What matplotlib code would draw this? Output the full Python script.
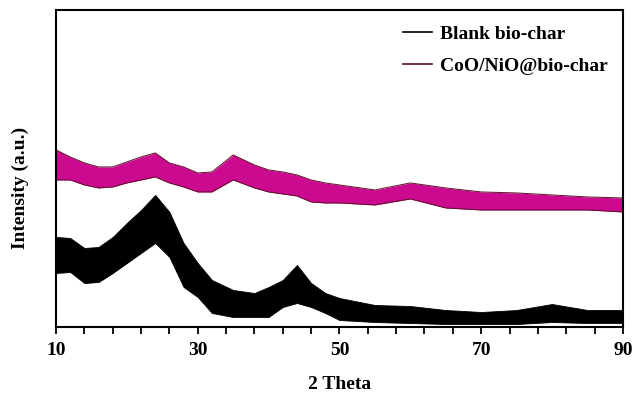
import numpy as np
import matplotlib.pyplot as plt
from matplotlib.lines import Line2D

# 2-theta positions where the envelopes were read (deg)
two_theta = [10, 12, 14, 16, 18, 20, 22, 24, 26, 28, 30, 32, 35, 38, 40, 42,
             44, 46, 48, 50, 55, 60, 65, 70, 75, 80, 85, 90]

# noisy traces given as upper / lower envelope of the scatter (a.u.)
blank_hi = [90, 89, 79, 80, 90, 104, 117, 132, 115, 84, 64, 47, 37, 34, 40, 47,
            62, 44, 34, 29, 22, 21, 17, 15, 17, 23, 17, 17]
blank_lo = [54, 55, 44, 45, 54, 64, 74, 84, 70, 40, 30, 14, 10, 10, 10, 20,
            24, 20, 14, 7, 5, 4, 3, 3, 3, 5, 4, 4]
coni_hi = [177, 170, 164, 160, 160, 165, 170, 174, 164, 160, 154, 155, 172, 162, 157, 155,
           152, 147, 144, 142, 137, 144, 139, 135, 134, 132, 130, 129]
coni_lo = [147, 147, 142, 139, 140, 144, 147, 150, 144, 140, 135, 135, 147, 139, 135, 133,
           131, 125, 124, 124, 122, 128, 119, 117, 117, 117, 117, 115]

labels = ["Blank bio-char", "CoO/NiO@bio-char"]
major_ticks = [10, 30, 50, 70, 90]

MAGENTA = "#CC0A8F"
MAROON = "#5E1028"

plt.rcParams["font.family"] = ["Liberation Serif", "DejaVu Serif"]
plt.rcParams["font.weight"] = "bold"

fig = plt.figure(figsize=(6.33, 3.94), dpi=100)
ax = fig.add_axes([0.0885, 0.17, 0.8955, 0.805])

# CoO/NiO trace
ax.fill_between(two_theta, coni_lo, coni_hi, color=MAGENTA, lw=0)
ax.plot(two_theta, coni_hi, color=MAROON, lw=0.7)
ax.plot(two_theta, coni_lo, color=MAROON, lw=0.7)

# blank trace
ax.fill_between(two_theta, blank_lo, blank_hi, color="black", lw=0.6)

ax.set_xlim(10, 90)
ax.set_ylim(0, 317)
ax.set_yticks([])
ax.set_xticks(major_ticks)
ax.set_xticks(np.arange(10, 91, 4), minor=True)
ax.tick_params(axis="x", which="both", direction="out", length=5, width=1.3,
               labelsize=14, pad=6)
for lab in ax.get_xticklabels():
    lab.set_fontweight("bold")
for s in ax.spines.values():
    s.set_linewidth(1.5)

ax.set_xlabel("2 Theta", fontsize=14, fontweight="bold", labelpad=12)
ax.set_ylabel("Intensity (a.u.)", fontsize=14, fontweight="bold")
ax.yaxis.set_label_coords(-0.048, 0.44)

handles = [Line2D([], [], color="black", lw=1.2),
           Line2D([], [], color=MAROON, lw=1.2)]
ax.legend(handles, labels, loc="upper right", frameon=False,
          handlelength=1.5, handletextpad=0.4, labelspacing=0.75,
          borderaxespad=0.4, prop={"weight": "bold", "size": 14})

fig.savefig("out.png", dpi=100)
